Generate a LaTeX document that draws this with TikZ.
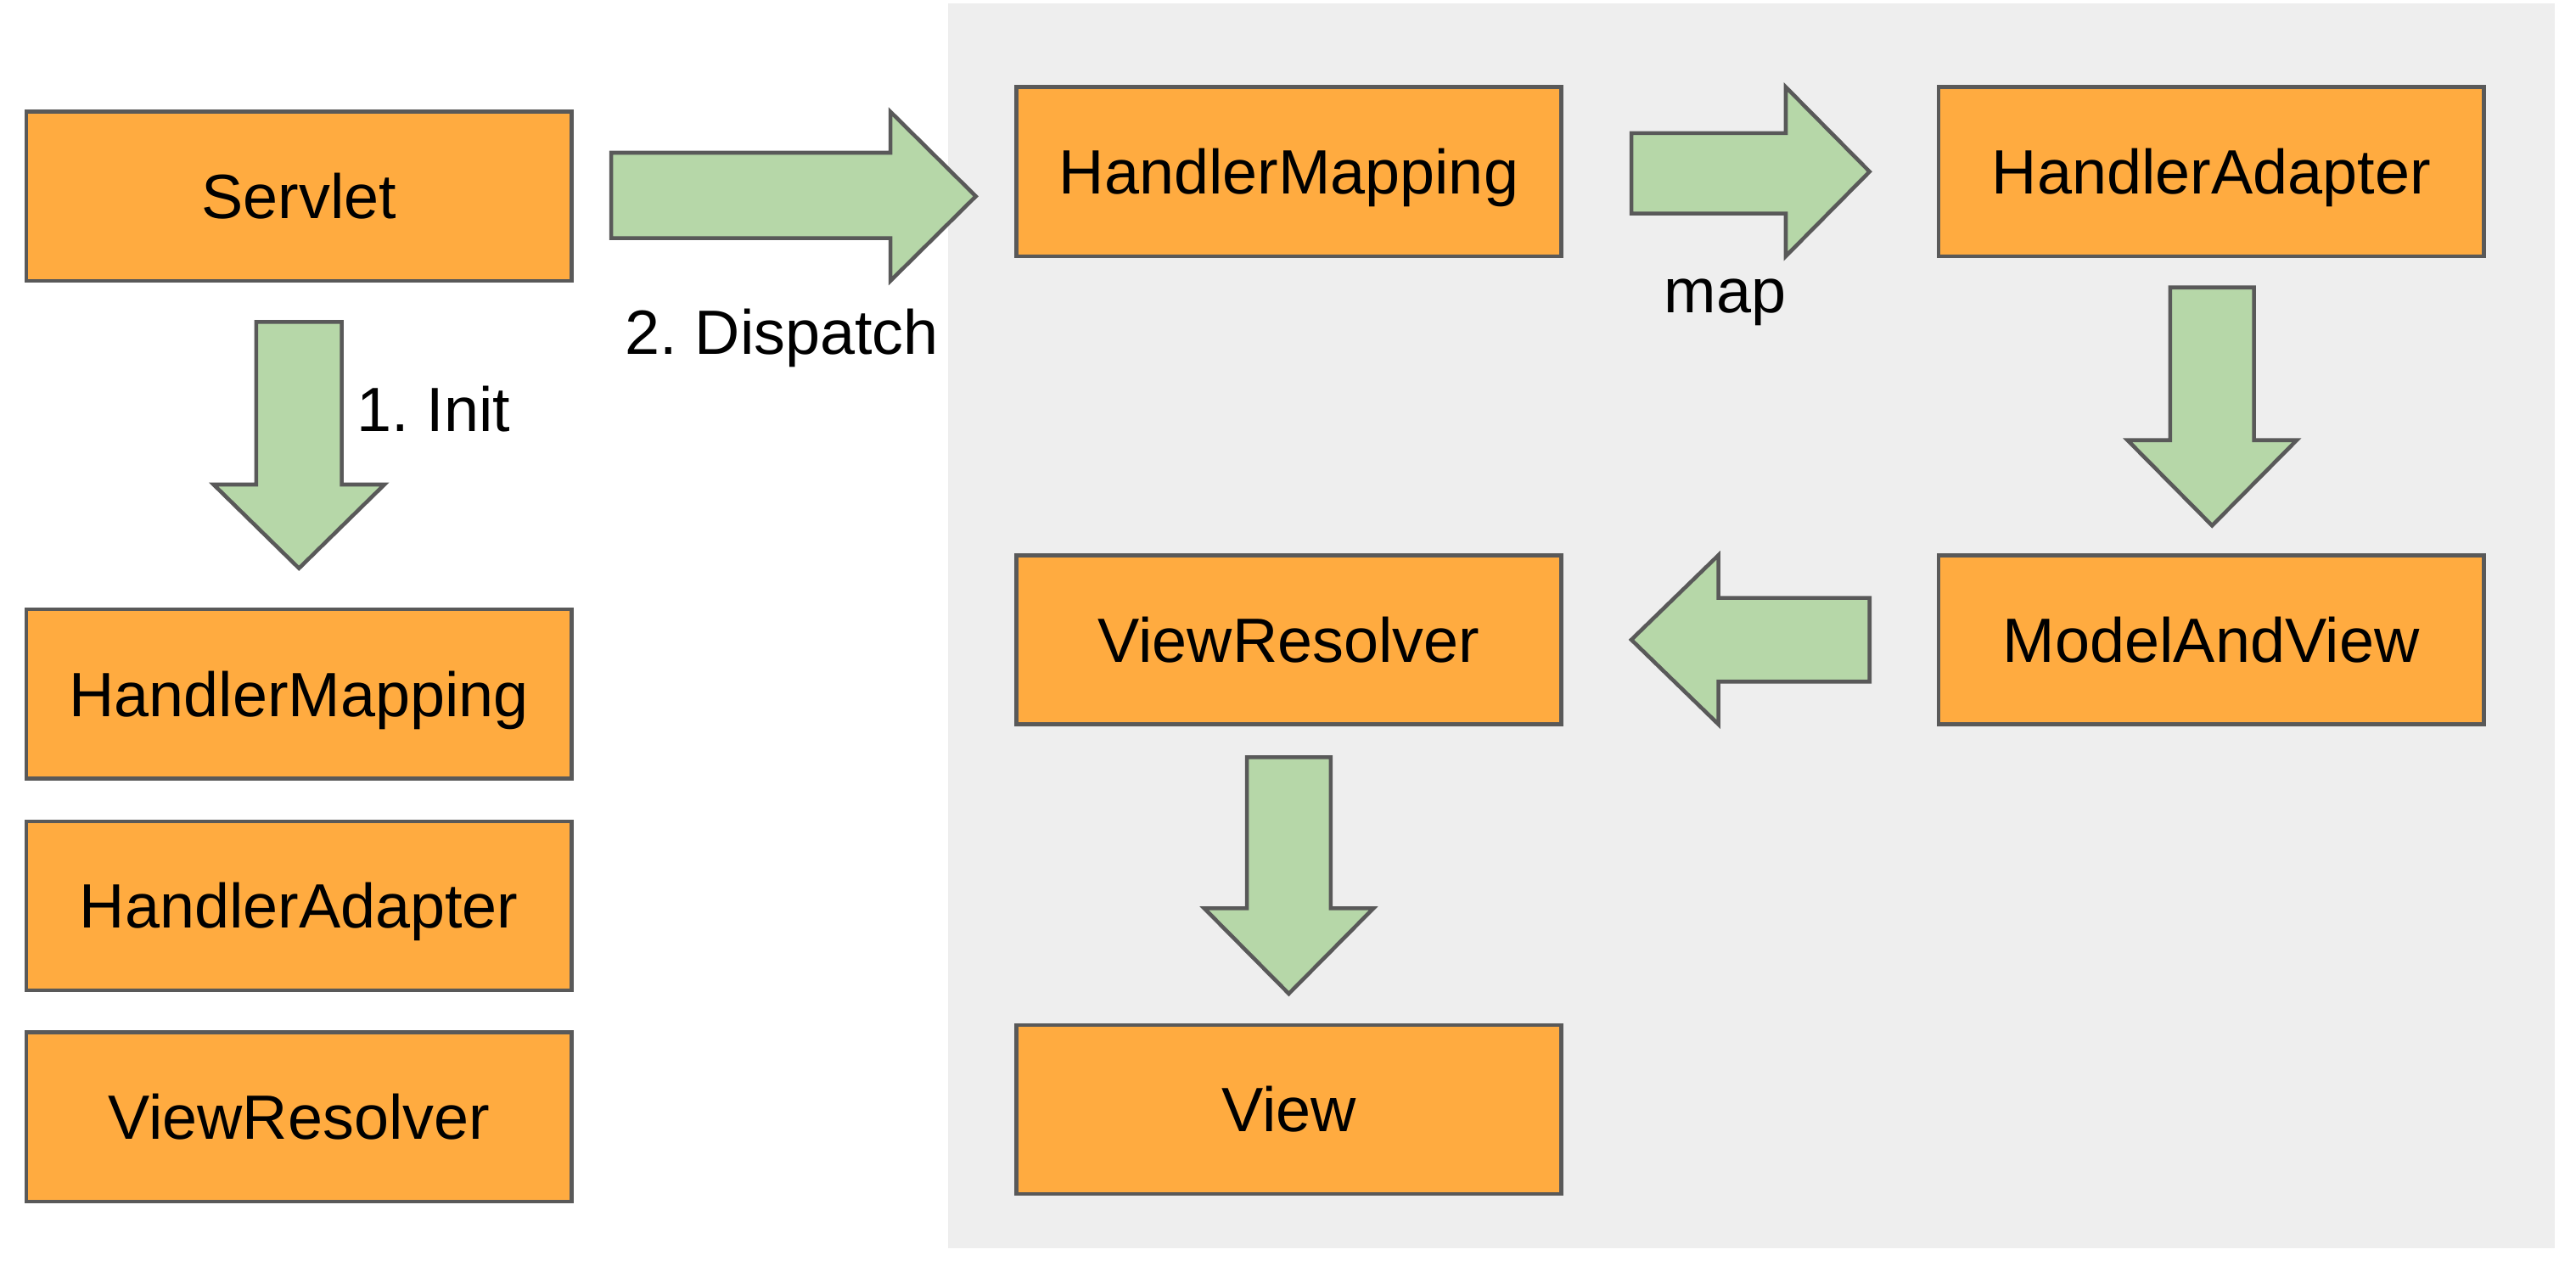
\documentclass[tikz,border=0pt]{standalone}
\usepackage{fontspec}
\setmainfont{Liberation Sans}
\frenchspacing
\definecolor{boxorange}{HTML}{FFAB40}
\definecolor{arrgreen}{HTML}{B6D7A8}
\definecolor{edgegray}{HTML}{595959}
\definecolor{bggray}{HTML}{EEEEEE}
\begin{document}
\begin{tikzpicture}[x=0.019356cm,y=-0.019356cm,
  comp/.style={draw=edgegray, fill=boxorange, line width=1.3pt, rectangle,
    minimum width=6.426cm, minimum height=1.994cm, inner sep=0pt,
    font=\fontsize{21}{25}\selectfont, text height=19.2pt, text depth=4.2pt},
  lbl/.style={inner sep=0pt, font=\fontsize{21}{25}\selectfont, text height=19.2pt, text depth=4.2pt},
  blockarrow/.style={draw=edgegray, fill=arrgreen, line width=1.3pt, line join=miter}]
\useasboundingbox (0,0) rectangle (1568,774);
\fill[bggray] (577,2) rectangle (1555,760);
% left column
\node[comp] (servlet) at (182,119.5) {Servlet};
\node[comp] (hm1) at (182,422.5) {HandlerMapping};
\node[comp] (ha1) at (182,551.5) {HandlerAdapter};
\node[comp] (vr1) at (182,680) {ViewResolver};
% middle column
\node[comp] (hm2) at (784.5,104.5) {HandlerMapping};
\node[comp] (vr2) at (784.5,389.5) {ViewResolver};
\node[comp] (view) at (784.5,675.5) {View};
% right column
\node[comp] (ha2) at (1346,104.5) {HandlerAdapter};
\node[comp] (mav) at (1346,389.5) {ModelAndView};
% block arrows
\draw[blockarrow] (156,196) -- (208,196) -- (208,295) -- (234,295) -- (182,346) -- (130,295) -- (156,295) -- cycle;
\draw[blockarrow] (372,93) -- (542,93) -- (542,68) -- (594,119.5) -- (542,171) -- (542,145) -- (372,145) -- cycle;
\draw[blockarrow] (993,81) -- (1087,81) -- (1087,53) -- (1138,104.5) -- (1087,156) -- (1087,130) -- (993,130) -- cycle;
\draw[blockarrow] (1321,175) -- (1372,175) -- (1372,268) -- (1398,268) -- (1346.5,320) -- (1295,268) -- (1321,268) -- cycle;
\draw[blockarrow] (1138,364) -- (1046,364) -- (1046,338) -- (993,389.5) -- (1046,441) -- (1046,415) -- (1138,415) -- cycle;
\draw[blockarrow] (759,461) -- (810,461) -- (810,553) -- (836,553) -- (784.5,605) -- (733,553) -- (759,553) -- cycle;
% labels
\node[lbl] (init) at (264,249) {1. Init};
\node[lbl] (dispatch) at (476,202) {2. Dispatch};
\node[lbl] (map) at (1050,177) {map};
\end{tikzpicture}
\end{document}
